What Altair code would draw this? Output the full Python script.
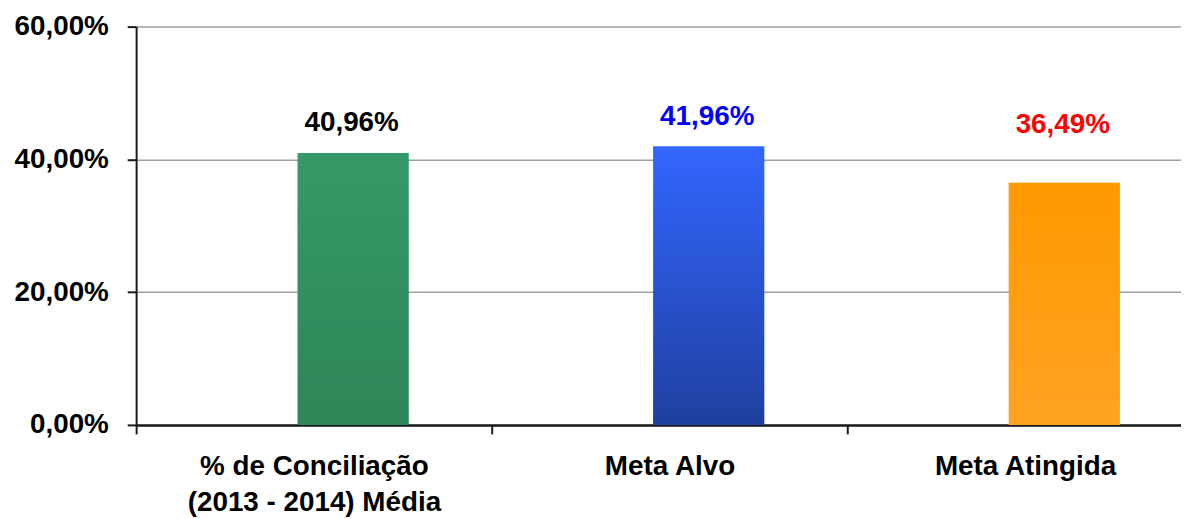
import altair as alt
import pandas as pd

categories = ["% de Conciliação\n(2013 - 2014) Média", "Meta Alvo", "Meta Atingida"]
values = [0.4096, 0.4196, 0.3649]
label_colors = ["#000000", "#0000FF", "#FF0000"]
label_offsets = [-30, -30, -58]
bar_tops = ["#359A68", "#3366FF", "#FF9900"]
bar_bottoms = ["#2E8558", "#1F3F9F", "#FFA322"]
y_ticks = [0, 0.2, 0.4, 0.6]

FONT = "Liberation Sans, Arial, sans-serif"
FMT = "replace(format(datum.value, '.2%'), '.', ',')"

df = pd.DataFrame({
    "cat": categories,
    "value": values,
})

x_enc = alt.X(
    "cat:N",
    sort=categories,
    scale=alt.Scale(range=[0, 1074], paddingInner=0, paddingOuter=0),
    axis=alt.Axis(
        title=None, labelAngle=0, tickOffset=-179, labelOffset=179,
        labelExpr="split(datum.label, '\\n')", labelLimit=600,
        labelFont=FONT, labelFontSize=28, labelFontWeight="bold", labelColor="#000000",
        labelPadding=19, labelLineHeight=36,
        domainColor="#1a1a1a", domainWidth=2.5, tickColor="#1a1a1a", tickWidth=2, tickSize=9,
    ),
)
y_enc = alt.Y(
    "value:Q",
    scale=alt.Scale(domain=[0, 0.6], nice=False),
    axis=alt.Axis(
        title=None, values=y_ticks, labelExpr=FMT, labelLimit=300,
        labelFont=FONT, labelFontSize=28, labelFontWeight="bold", labelColor="#000000",
        labelPadding=19, tickSize=9, tickColor="#1a1a1a", tickWidth=2,
        domainColor="#1a1a1a", domainWidth=2,
        grid=True, gridColor="#A0A0A0", gridWidth=1.5,
    ),
)

base = alt.Chart(df)
layers = []
for cat, top, bottom in zip(categories, bar_tops, bar_bottoms):
    grad = alt.Gradient(
        gradient="linear",
        stops=[alt.GradientStop(color=top, offset=0), alt.GradientStop(color=bottom, offset=1)],
        x1=0, x2=0, y1=0, y2=1,
    )
    layers.append(
        base.transform_filter(alt.datum.cat == cat)
        .mark_bar(width=112, color=grad)
        .encode(x=x_enc, y=y_enc, xOffset=alt.value(218.5))
    )

for cat, tc, dy in zip(categories, label_colors, label_offsets):
    layers.append(
        base.transform_filter(alt.datum.cat == cat)
        .transform_calculate(lbl=FMT)
        .mark_text(font=FONT, fontSize=28, fontWeight="bold", baseline="middle",
                   align="center", color=tc, dy=dy)
        .encode(x=x_enc, y=y_enc, xOffset=alt.value(217), text="lbl:N")
    )

chart = alt.layer(*layers).properties(
    width=1052, height=401,
    autosize=alt.AutoSizeParams(type="none"),
    padding={"left": 129, "top": 17, "right": 0, "bottom": 93},
).configure_view(stroke=None)

chart.save("out.html", embed_options={"renderer": "svg", "actions": False})
